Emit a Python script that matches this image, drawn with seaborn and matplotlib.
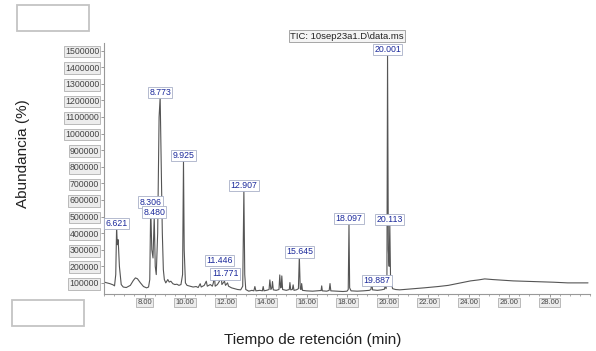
import numpy as np
import pandas as pd
import matplotlib
matplotlib.use('Agg')
import matplotlib.pyplot as plt
from matplotlib.patches import Rectangle
from matplotlib.ticker import MultipleLocator
import seaborn as sns

# trace del cromatograma (tiempo min, abundancia)
tramo_6_10 = [(6.00, 105000), (6.15, 100000), (6.30, 95000), (6.45, 88000), (6.52, 82000),
              (6.58, 150000), (6.621, 430000), (6.66, 330000), (6.70, 360000), (6.76, 200000),
              (6.85, 90000), (6.95, 75000), (7.10, 72000), (7.30, 85000), (7.45, 115000),
              (7.55, 130000), (7.65, 125000), (7.80, 100000), (7.95, 78000), (8.10, 70000),
              (8.20, 75000), (8.26, 120000), (8.306, 560000), (8.36, 300000), (8.42, 250000),
              (8.480, 500000), (8.53, 200000), (8.58, 150000), (8.65, 400000), (8.72, 1100000),
              (8.773, 1220000), (8.80, 1000000), (8.84, 700000), (8.88, 400000), (8.93, 180000),
              (8.98, 120000), (9.05, 100000), (9.15, 120000), (9.22, 105000), (9.30, 110000),
              (9.40, 95000), (9.50, 90000), (9.60, 92000), (9.70, 85000), (9.80, 90000),
              (9.88, 150000), (9.925, 840000), (9.96, 300000), (10.02, 100000)]
tramo_10_13 = [(10.10, 85000), (10.25, 80000), (10.40, 75000), (10.55, 78000), (10.65, 72000),
               (10.75, 95000), (10.80, 75000), (10.95, 85000), (11.05, 110000), (11.10, 80000),
               (11.25, 90000), (11.35, 80000), (11.40, 100000), (11.446, 150000), (11.49, 80000),
               (11.60, 90000), (11.70, 110000), (11.771, 175000), (11.82, 90000), (11.95, 110000),
               (12.00, 85000), (12.10, 100000), (12.15, 80000), (12.30, 70000), (12.45, 65000),
               (12.60, 60000), (12.75, 58000), (12.85, 80000), (12.907, 660000), (12.95, 150000),
               (13.00, 60000)]
tramo_13_20 = [(13.15, 50000), (13.30, 55000), (13.40, 52000), (13.45, 78000), (13.50, 52000),
               (13.70, 55000), (13.82, 52000), (13.86, 78000), (13.90, 52000), (14.05, 56000),
               (14.15, 60000), (14.19, 118000), (14.24, 60000), (14.29, 70000), (14.32, 108000),
               (14.36, 58000), (14.50, 55000), (14.64, 60000), (14.68, 148000), (14.72, 70000),
               (14.75, 72000), (14.78, 142000), (14.82, 60000), (15.00, 55000), (15.15, 60000),
               (15.18, 102000), (15.22, 58000), (15.30, 60000), (15.34, 88000), (15.38, 55000),
               (15.50, 58000), (15.60, 65000), (15.645, 260000), (15.69, 65000), (15.73, 60000),
               (15.76, 96000), (15.80, 55000), (16.00, 52000), (16.30, 50000), (16.50, 52000),
               (16.72, 54000), (16.75, 82000), (16.78, 52000), (17.00, 50000), (17.12, 55000),
               (17.16, 96000), (17.20, 52000), (17.50, 50000), (17.80, 48000), (18.00, 50000),
               (18.06, 60000), (18.097, 460000), (18.13, 70000), (18.20, 52000), (18.50, 50000),
               (18.80, 52000), (19.10, 55000), (19.18, 60000), (19.22, 108000), (19.26, 58000),
               (19.50, 55000), (19.70, 58000), (19.85, 62000), (19.887, 88000), (19.93, 65000),
               (19.97, 120000), (20.001, 1480000), (20.04, 300000), (20.08, 200000),
               (20.113, 455000), (20.15, 120000), (20.25, 65000)]
tramo_20_30 = [(20.40, 60000), (20.60, 58000), (21.00, 62000), (21.30, 65000), (21.80, 70000),
               (22.50, 78000), (23.00, 85000), (23.40, 95000), (23.80, 105000), (24.10, 112000),
               (24.50, 118000), (24.80, 124000), (25.20, 120000), (25.70, 116000), (26.20, 112000),
               (26.70, 110000), (27.10, 108000), (27.60, 106000), (28.20, 104000), (28.90, 100000),
               (29.40, 100000), (29.90, 100000)]

peak_rt = [6.621, 8.306, 8.480, 8.773, 9.925, 11.446, 11.771, 12.907, 15.645, 18.097,
           19.887, 20.001, 20.113]
peak_labels = ['6.621', '8.306', '8.480', '8.773', '9.925', '11.446', '11.771', '12.907',
               '15.645', '18.097', '19.887', '20.001', '20.113']

puntos = tramo_6_10 + tramo_10_13 + tramo_13_20 + tramo_20_30
df = pd.DataFrame(puntos, columns=['rt', 'abund'])

sns.set_style('white')
plt.rcParams['font.family'] = ['Liberation Sans', 'DejaVu Sans']

fig = plt.figure(figsize=(5.96, 3.51), dpi=100)
ax = fig.add_axes([0.1745, 0.1624, 0.8155, 0.7151])

sns.lineplot(data=df, x='rt', y='abund', ax=ax, color='#555555', linewidth=0.8,
             estimator=None, sort=False)

ax.set_xlim(6.0, 30.0)
ax.set_ylim(33000, 1546000)
ax.set_yticks(np.arange(100000, 1500001, 100000))
ax.set_yticklabels([str(v) for v in range(100000, 1500001, 100000)])
ax.set_xticks(np.arange(8, 29, 2))
ax.set_xticklabels([f'{v:.2f}' for v in np.arange(8, 29, 2)])
ax.xaxis.set_minor_locator(MultipleLocator(0.5))

for s in ['top', 'right']:
    ax.spines[s].set_visible(False)
for s in ['left', 'bottom']:
    ax.spines[s].set_color('#999999')
    ax.spines[s].set_linewidth(0.8)

ax.tick_params(axis='both', which='major', direction='out', length=2, width=0.6,
               color='#888888', labelsize=5.5, labelcolor='#444444', pad=1.5,
               bottom=True, left=True)
ax.tick_params(axis='y', which='major', labelsize=6.3)
ax.tick_params(axis='x', which='minor', direction='out', length=1.5, width=0.5,
               color='#888888', bottom=True)
for lbl in ax.get_yticklabels() + ax.get_xticklabels():
    lbl.set_bbox(dict(boxstyle='square,pad=0.15', fc='#ececec', ec='#b0b0b0', lw=0.6))
ax.set_xlabel('Tiempo de retención (min)', fontsize=11, color='#222222')
ax.set_ylabel('Abundancia (%)', fontsize=11, color='#222222')
ax.yaxis.set_label_coords(-0.152, 0.56)
ax.xaxis.set_label_coords(0.43, -0.155)

# etiquetas de picos
lookup = dict(puntos)
label_shift = {'11.446': (3.5, 6.8), '11.771': (3, -5.6), '19.887': (-6, 0)}
for t, lab in zip(peak_rt, peak_labels):
    dx, dy = label_shift.get(lab, (0, 0))
    ax.annotate(lab, xy=(t, lookup[t]), xytext=(dx, dy), textcoords='offset points',
                ha='center', va='bottom', fontsize=6.3, color='#1c2a9c',
                annotation_clip=False, zorder=5,
                bbox=dict(boxstyle='square,pad=0.15', fc='white', ec='#a8b0c8', lw=0.6))

ax.text(0.5, 1.027, 'TIC: 10sep23a1.D\\data.ms', transform=ax.transAxes,
        ha='center', va='center', fontsize=6.8, color='#222222', zorder=4,
        bbox=dict(boxstyle='square,pad=0.15', fc='#f4f4f4', ec='#999999', lw=0.6))

# cajas vacias
W, H = 596, 351
for x0, y0, x1, y1 in [(17, 5, 89, 31), (12, 300, 84, 326)]:
    fig.patches.append(Rectangle((x0 / W, 1 - y1 / H), (x1 - x0) / W, (y1 - y0) / H,
                                 transform=fig.transFigure, fc='white', ec='#c4c4c4',
                                 lw=1.3))

fig.savefig('out.png', dpi=100)
